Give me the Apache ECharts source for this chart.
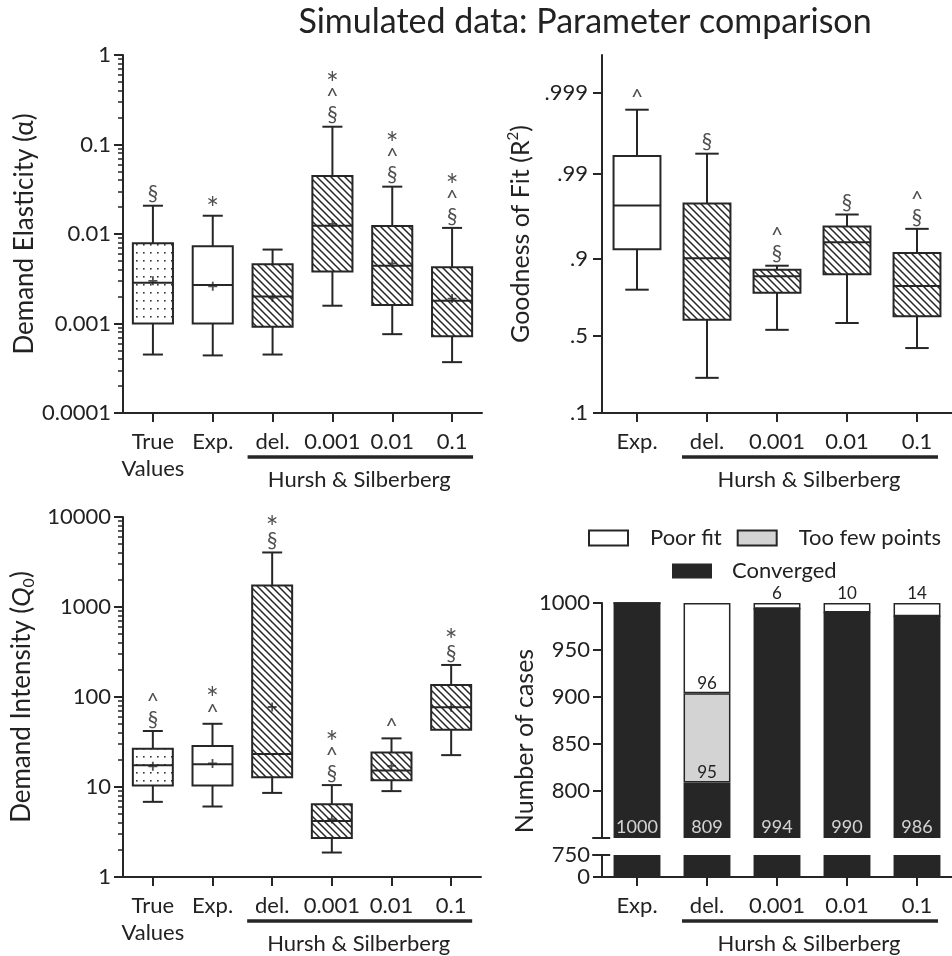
<!DOCTYPE html>
<html>
<head>
<meta charset="utf-8">
<script src="https://cdn.jsdelivr.net/npm/echarts@6.0.0/dist/echarts.min.js"></script>
<style>
  html, body { margin: 0; padding: 0; background: #fff; }
  #chart { width: 952px; height: 956px; }
</style>
</head>
<body>
<div id="chart"></div>
<script>
const INK = "#262626";
const TEXT = "#222";
const FONT = "Lato";

// categories
const groupLabels = ["True\nValues", "Exp.", "del.", "0.001", "0.01", "0.1"];
const fitLabels = ["Exp.", "del.", "0.001", "0.01", "0.1"];
const groupFills = ["dots", "plain", "hatch", "hatch", "hatch", "hatch"];
const fitFills = ["plain", "hatch", "hatch", "hatch", "hatch"];

// tick labels
const alphaTicks = [0.0001, 0.001, 0.01, 0.1, 1];
const alphaTickLabels = ["0.0001", "0.001", "0.01", "0.1", "1"];
const q0Ticks = [1, 10, 100, 1000, 10000];
const q0TickLabels = ["1", "10", "100", "1000", "10000"];
const r2Ticks = [0.1, 0.5, 0.9, 0.99, 0.999];
const r2TickLabels = [".1", ".5", ".9", ".99", ".999"];
const r2Top = 0.99966;
const casesTicks = [800, 850, 900, 950, 1000];
const casesBreak = 750;

// boxes: [min, q1, median, q3, max]
const alphaBoxes = [
  [0.00045, 0.001, 0.00286, 0.0079, 0.0207],
  [0.00044, 0.001, 0.0027, 0.0073, 0.016],
  [0.00045, 0.00092, 0.002, 0.00458, 0.0067],
  [0.00158, 0.0038, 0.0124, 0.0445, 0.158],
  [0.00076, 0.00161, 0.00443, 0.0123, 0.0338],
  [0.00037, 0.00072, 0.0018, 0.00425, 0.0117]
];
const alphaMeans = [0.003, 0.0026, 0.00195, 0.013, 0.0047, 0.0019];
const alphaMarks = ["§", "*", "", "*\n^\n§", "*\n^\n§", "*\n^\n§"];

const r2Boxes = [
  [0.7876, 0.9214, 0.976, 0.99401, 0.99839],
  [0.232, 0.612, 0.9008, 0.9773, 0.9944],
  [0.542, 0.773, 0.8445, 0.8677, 0.88],
  [0.5897, 0.852, 0.9347, 0.9572, 0.9692],
  [0.4135, 0.635, 0.8047, 0.9135, 0.9544]
];
const r2Marks = ["^", "§", "^\n§", "§", "^\n§"];

const q0Boxes = [
  [6.84, 10.4, 17.4, 26.6, 41.9],
  [6.07, 10.4, 17.9, 28.5, 50.4],
  [8.6, 12.8, 23.2, 1734, 4036],
  [1.87, 2.72, 4.2, 6.44, 10.5],
  [9.0, 11.9, 15.3, 24.2, 34.7],
  [22.6, 43.3, 76.7, 136, 227]
];
const q0Means = [17, 18.3, 77.4, 4.4, 17.2, 77];
const q0Marks = ["^\n§", "*\n^", "*\n§", "*\n^\n§", "^", "*\n§"];

// number of cases
const converged = [1000, 809, 994, 990, 986];
const tooFew = [0, 95, 0, 0, 0];
const poorFit = [0, 96, 6, 10, 14];

const log10 = (v) => Math.log10(v);
const logit = (v) => Math.log10(v / (1 - v));

function makePattern(kind) {
  const c = document.createElement("canvas");
  const ctx = c.getContext("2d");
  if (kind === "hatch") {
    c.width = 7;
    c.height = 7;
    ctx.fillStyle = "#fff";
    ctx.fillRect(0, 0, 7, 7);
    ctx.strokeStyle = INK;
    ctx.lineWidth = 1.5;
    ctx.beginPath();
    ctx.moveTo(-1, -1);
    ctx.lineTo(8, 8);
    ctx.moveTo(-1, 6);
    ctx.lineTo(1, 8);
    ctx.moveTo(6, -1);
    ctx.lineTo(8, 1);
    ctx.stroke();
  } else {
    c.width = 7;
    c.height = 8;
    ctx.fillStyle = "#fff";
    ctx.fillRect(0, 0, 7, 8);
    ctx.fillStyle = "#333";
    ctx.fillRect(3, 4, 1.6, 1.6);
  }
  return { image: c, repeat: "repeat" };
}

const fills = {
  plain: "#fff",
  hatch: makePattern("hatch"),
  dots: makePattern("dots")
};

function minorLogTicks(lo, hi) {
  const out = [];
  for (let e = lo; e < hi; e++) {
    for (let k = 2; k <= 9; k++) out.push(e + Math.log10(k));
  }
  return out;
}

function tickFormatter(ticks, labels, fn) {
  return function (v) {
    const i = ticks.findIndex((t) => Math.abs(fn(t) - v) < 1e-6);
    return i >= 0 ? labels[i] : "";
  };
}

function boxRenderer(fillKinds) {
  return function (params, api) {
    const i = api.value(0);
    const x = api.coord([i, api.value(3)])[0];
    const yMin = api.coord([i, api.value(1)])[1];
    const yQ1 = api.coord([i, api.value(2)])[1];
    const yMed = api.coord([i, api.value(3)])[1];
    const yQ3 = api.coord([i, api.value(4)])[1];
    const yMax = api.coord([i, api.value(5)])[1];
    const w = api.size([1, 0])[0] * 0.67;
    const cap = w / 4;
    const ls = { stroke: INK, lineWidth: 2, fill: null };
    return {
      type: "group",
      children: [
        { type: "line", shape: { x1: x, y1: yMax, x2: x, y2: yQ3 }, style: ls },
        { type: "line", shape: { x1: x - cap, y1: yMax, x2: x + cap, y2: yMax }, style: ls },
        { type: "line", shape: { x1: x, y1: yQ1, x2: x, y2: yMin }, style: ls },
        { type: "line", shape: { x1: x - cap, y1: yMin, x2: x + cap, y2: yMin }, style: ls },
        {
          type: "rect",
          shape: { x: x - w / 2, y: yQ3, width: w, height: yQ1 - yQ3 },
          style: { fill: fills[fillKinds[i]], stroke: INK, lineWidth: 2 }
        },
        { type: "line", shape: { x1: x - w / 2, y1: yMed, x2: x + w / 2, y2: yMed }, style: ls }
      ]
    };
  };
}

const axisLine = { show: true, onZero: false, lineStyle: { color: INK, width: 2 } };
const tickLine = { color: INK, width: 2 };
const labelText = { color: TEXT, fontFamily: FONT, fontSize: 22 };
const nameText = { color: TEXT, fontFamily: FONT, fontSize: 26 };

function catAxis(gridIndex, labels, show) {
  return {
    type: "category",
    gridIndex: gridIndex,
    data: labels,
    show: show,
    position: "bottom",
    boundaryGap: true,
    axisLine: axisLine,
    axisTick: { show: true, alignWithLabel: true, length: 9, lineStyle: tickLine },
    axisLabel: Object.assign({ margin: 15, lineHeight: 27, interval: 0 }, labelText),
    splitLine: { show: false }
  };
}

function boxSeries(x, y, boxes, kinds, fn) {
  return {
    type: "custom",
    xAxisIndex: x,
    yAxisIndex: y,
    renderItem: boxRenderer(kinds),
    encode: { x: 0, y: [1, 2, 3, 4, 5] },
    data: boxes.map((b, i) => [i].concat(b.map(fn))),
    z: 2
  };
}

function meanSeries(x, y, means, fn) {
  return {
    type: "scatter",
    xAxisIndex: x,
    yAxisIndex: y,
    symbol: "path://M4,0H6V4H10V6H6V10H4V6H0V4H4Z",
    symbolSize: 9,
    itemStyle: { color: INK },
    data: means.map((m, i) => [i, fn(m)]),
    z: 4
  };
}

function markSeries(x, y, boxes, marks, fn) {
  return {
    type: "scatter",
    xAxisIndex: x,
    yAxisIndex: y,
    symbolSize: 0,
    data: boxes.map((b, i) => [i, fn(b[4])]),
    label: {
      show: true,
      position: "top",
      distance: 3,
      color: TEXT,
      fontFamily: FONT,
      fontSize: 21,
      lineHeight: 18,
      formatter: (p) =>
        marks[p.dataIndex]
          .split("\n")
          .map((s) => (s === "*" ? "{star|*}" : s))
          .join("\n"),
      rich: {
        star: { fontFamily: FONT, fontSize: 30, lineHeight: 18, color: TEXT, padding: [12, 0, 0, 0] }
      }
    },
    z: 4
  };
}

const chart = echarts.init(document.getElementById("chart"));

const option = {
  animation: false,
  backgroundColor: "#fff",
  title: {
    text: "Simulated data: Parameter comparison",
    left: 580,
    top: 0,
    textAlign: "center",
    textStyle: { color: TEXT, fontFamily: FONT, fontSize: 34, fontWeight: "normal" }
  },
  legend: [
    {
      data: ["Poor fit", "Too few points"],
      left: 583,
      top: 522,
      icon: "rect",
      itemWidth: 39,
      itemHeight: 15,
      itemGap: 15,
      selectedMode: false,
      textStyle: { color: TEXT, fontFamily: FONT, fontSize: 22, padding: [0, 0, 0, 17] }
    },
    {
      data: ["Converged"],
      left: 667,
      top: 555,
      icon: "rect",
      itemWidth: 40,
      itemHeight: 15,
      selectedMode: false,
      textStyle: { color: TEXT, fontFamily: FONT, fontSize: 22, padding: [0, 0, 0, 15] }
    }
  ],
  grid: [
    { left: 123, top: 55, width: 359, height: 358 },
    { left: 602, top: 55, width: 358, height: 358 },
    { left: 123, top: 517, width: 358, height: 360 },
    { left: 602, top: 603, width: 358, height: 235 },
    { left: 602, top: 855, width: 358, height: 22 }
  ],
  xAxis: [
    catAxis(0, groupLabels, true),
    catAxis(1, fitLabels, true),
    catAxis(2, groupLabels, true),
    catAxis(3, fitLabels, false),
    catAxis(4, fitLabels, true)
  ],
  yAxis: [
    {
      type: "value",
      gridIndex: 0,
      position: "left",
      min: -4,
      max: 0,
      interval: 1,
      axisLine: axisLine,
      axisTick: { show: true, length: 9, lineStyle: tickLine },
      axisLabel: Object.assign({ margin: 12, formatter: tickFormatter(alphaTicks, alphaTickLabels, log10) }, labelText),
      splitLine: { show: false },
      name: "Demand Elasticity (α)",
      nameLocation: "middle",
      nameGap: 84,
      nameTextStyle: nameText
    },
    {
      type: "value",
      gridIndex: 0,
      position: "left",
      min: -4,
      max: 0,
      axisLine: { show: false },
      axisTick: { show: true, length: 5, lineStyle: { color: INK, width: 1.5 }, customValues: minorLogTicks(-4, 0) },
      axisLabel: { show: false },
      splitLine: { show: false }
    },
    {
      type: "value",
      gridIndex: 1,
      position: "left",
      min: logit(r2Ticks[0]),
      max: logit(r2Top),
      axisLine: axisLine,
      axisTick: { show: true, length: 9, lineStyle: tickLine, customValues: r2Ticks.map(logit) },
      axisLabel: Object.assign({
        margin: 14,
        customValues: r2Ticks.map(logit),
        formatter: tickFormatter(r2Ticks, r2TickLabels, logit)
      }, labelText),
      splitLine: { show: false },
      name: "Goodness of Fit (R{sup|2})",
      nameLocation: "middle",
      nameGap: 66,
      nameTextStyle: Object.assign({}, nameText, {
        fontSize: 25,
        lineHeight: 30,
        rich: { sup: { fontFamily: FONT, fontSize: 15, color: TEXT, verticalAlign: "top", lineHeight: 30 } }
      })
    },
    {
      type: "value",
      gridIndex: 2,
      position: "left",
      min: 0,
      max: 4,
      interval: 1,
      axisLine: axisLine,
      axisTick: { show: true, length: 9, lineStyle: tickLine },
      axisLabel: Object.assign({ margin: 12, formatter: tickFormatter(q0Ticks, q0TickLabels, log10) }, labelText),
      splitLine: { show: false },
      name: "Demand Intensity ({q|Q}{sub|0})",
      nameLocation: "middle",
      nameGap: 86,
      nameTextStyle: Object.assign({}, nameText, {
        lineHeight: 30,
        rich: {
          q: { fontFamily: FONT, fontSize: 26, fontStyle: "italic", color: TEXT, lineHeight: 30 },
          sub: { fontFamily: FONT, fontSize: 16, color: TEXT, verticalAlign: "bottom", lineHeight: 30 }
        }
      })
    },
    {
      type: "value",
      gridIndex: 2,
      position: "left",
      min: 0,
      max: 4,
      axisLine: { show: false },
      axisTick: { show: true, length: 5, lineStyle: { color: INK, width: 1.5 }, customValues: minorLogTicks(0, 4) },
      axisLabel: { show: false },
      splitLine: { show: false }
    },
    {
      type: "value",
      gridIndex: 3,
      position: "left",
      min: casesBreak,
      max: 1000,
      axisLine: axisLine,
      axisTick: { show: true, length: 9, lineStyle: tickLine, customValues: casesTicks },
      axisLabel: Object.assign({ margin: 12, customValues: casesTicks, formatter: (v) => String(v) }, labelText),
      splitLine: { show: false }
    },
    {
      type: "value",
      gridIndex: 4,
      position: "left",
      min: 0,
      max: casesBreak,
      interval: casesBreak,
      axisLine: axisLine,
      axisTick: { show: true, length: 9, lineStyle: tickLine },
      axisLabel: Object.assign({ margin: 12, formatter: (v) => String(v) }, labelText),
      splitLine: { show: false }
    }
  ],
  series: [
    boxSeries(0, 0, alphaBoxes, groupFills, log10),
    meanSeries(0, 0, alphaMeans, log10),
    markSeries(0, 0, alphaBoxes, alphaMarks, log10),

    boxSeries(1, 2, r2Boxes, fitFills, logit),
    markSeries(1, 2, r2Boxes, r2Marks, logit),

    boxSeries(2, 3, q0Boxes, groupFills, log10),
    meanSeries(2, 3, q0Means, log10),
    markSeries(2, 3, q0Boxes, q0Marks, log10),

    {
      name: "Converged",
      type: "bar",
      xAxisIndex: 3,
      yAxisIndex: 5,
      stack: "cases",
      barWidth: "67%",
      data: converged,
      itemStyle: { color: INK }
    },
    {
      name: "Too few points",
      type: "bar",
      xAxisIndex: 3,
      yAxisIndex: 5,
      stack: "cases",
      barWidth: "67%",
      data: tooFew.map((v) => ({ value: v, label: { show: v > 0 } })),
      itemStyle: { color: "#d3d3d3", borderColor: INK, borderWidth: 1.5 },
      label: { position: "insideBottom", distance: 2, color: TEXT, fontFamily: FONT, fontSize: 17, formatter: "{c}" }
    },
    {
      name: "Poor fit",
      type: "bar",
      xAxisIndex: 3,
      yAxisIndex: 5,
      stack: "cases",
      barWidth: "67%",
      data: poorFit.map((v) => ({
        value: v,
        label: { show: v > 0, position: v > 50 ? "insideBottom" : "top" }
      })),
      itemStyle: { color: "#fff", borderColor: INK, borderWidth: 1.5 },
      label: { distance: 1, color: TEXT, fontFamily: FONT, fontSize: 17, formatter: "{c}" }
    },
    {
      type: "scatter",
      xAxisIndex: 3,
      yAxisIndex: 5,
      symbolSize: 0,
      data: converged.map((v, i) => [i, casesBreak]),
      label: {
        show: true,
        position: "top",
        distance: 2,
        color: "#fff",
        fontFamily: FONT,
        fontSize: 18,
        formatter: (p) => String(converged[p.dataIndex])
      },
      z: 5
    },
    {
      name: "Converged",
      type: "bar",
      xAxisIndex: 4,
      yAxisIndex: 6,
      barWidth: "67%",
      data: converged,
      itemStyle: { color: INK }
    }
  ]
};

chart.setOption(option);

function bracket(xAxisIndex, yBase) {
  const xa = chart.convertToPixel({ xAxisIndex: xAxisIndex }, "del.");
  const xb = chart.convertToPixel({ xAxisIndex: xAxisIndex }, "0.1");
  return [
    {
      type: "line",
      shape: { x1: xa - 25, y1: yBase + 44, x2: xb + 21, y2: yBase + 44 },
      style: { stroke: INK, lineWidth: 3.5 }
    },
    {
      type: "text",
      x: (xa + xb) / 2 - 3,
      y: yBase + 67,
      style: {
        text: "Hursh & Silberberg",
        font: "22px " + FONT,
        fill: TEXT,
        textAlign: "center",
        textVerticalAlign: "middle",
        align: "center",
        verticalAlign: "middle"
      }
    }
  ];
}

const yUpperBreak = chart.convertToPixel({ yAxisIndex: 5 }, casesBreak);
const yLowerBreak = chart.convertToPixel({ yAxisIndex: 6 }, casesBreak);
const yAxisX = chart.convertToPixel({ xAxisIndex: 3 }, "Exp.") - 35.8;

chart.setOption({
  graphic: [].concat(
    bracket(0, 413),
    bracket(1, 413),
    bracket(2, 877),
    bracket(4, 877),
    [
      {
        type: "line",
        shape: { x1: yAxisX - 9, y1: yUpperBreak, x2: yAxisX + 9, y2: yUpperBreak },
        style: { stroke: INK, lineWidth: 2 }
      },
      {
        type: "line",
        shape: { x1: yAxisX - 9, y1: yLowerBreak, x2: yAxisX + 9, y2: yLowerBreak },
        style: { stroke: INK, lineWidth: 2 }
      },
      {
        type: "text",
        x: 525,
        y: 741,
        rotation: Math.PI / 2,
        style: {
          text: "Number of cases",
          font: "25px " + FONT,
          fill: TEXT,
          textAlign: "center",
          textVerticalAlign: "middle",
          align: "center",
          verticalAlign: "middle"
        }
      }
    ]
  )
});
</script>
</body>
</html>
